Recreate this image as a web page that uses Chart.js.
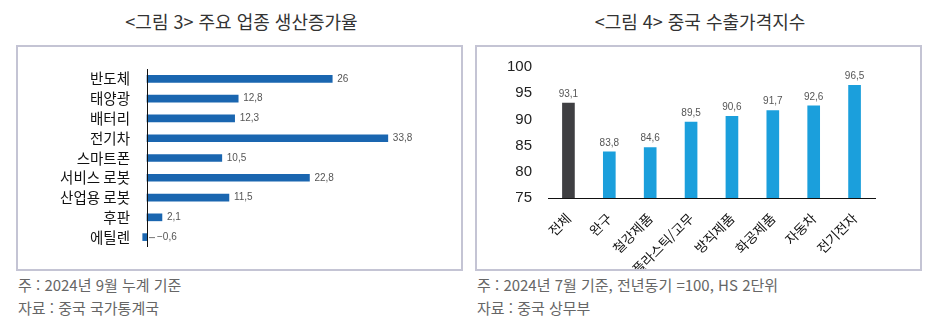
<!DOCTYPE html>
<html lang="ko">
<head>
<meta charset="UTF-8">
<title>중국 산업 지표</title>
<script src="https://cdn.jsdelivr.net/npm/chart.js@4.4.1/dist/chart.umd.min.js"></script>
<style>
    body { margin:0; background:#fff; font-family:'Noto Sans CJK KR', sans-serif; }
    .title { position:absolute; top:8px; font-size:18px; line-height:26px; color:#333; text-align:center; }
    .box { position:absolute; top:45px; width:443px; height:222px; border:2px solid #c4c4d4; }
    .note { position:absolute; font-size:15px; line-height:20px; color:#666; }
</style>
</head>
<body>
<div class="title" style="left:16px;width:451px">&lt;그림 3&gt; 주요 업종 생산증가율</div>
<div class="title" style="left:475px;width:450px">&lt;그림 4&gt; 중국 수출가격지수</div>
<div class="box" style="left:16px"><canvas id="chart1" width="443" height="222"></canvas></div>
<div class="box" style="left:475px"><canvas id="chart2" width="443" height="222"></canvas></div>
<div class="note" style="left:18px;top:275px">주 : 2024년 9월 누계 기준</div>
<div class="note" style="left:18px;top:298px">자료 : 중국 국가통계국</div>
<div class="note" style="left:477px;top:275px">주 : 2024년 7월 기준, 전년동기 =100, HS 2단위</div>
<div class="note" style="left:477px;top:298px">자료 : 중국 상무부</div>
<script>
    // 주요 업종 생산증가율 (%)
    var industries = ['반도체','태양광','배터리','전기차','스마트폰','서비스 로봇','산업용 로봇','후판','에틸렌'];
    var growth = [26, 12.8, 12.3, 33.8, 10.5, 22.8, 11.5, 2.1, -0.6];

    // 중국 수출가격지수 (전년동기=100)
    var products = ['전체','완구','철강제품','플라스틱/고무','방직제품','화공제품','자동차','전기전자'];
    var priceIndex = [93.1, 83.8, 84.6, 89.5, 90.6, 91.7, 92.6, 96.5];
    var priceTicks = [75, 80, 85, 90, 95, 100];

    function fmt(v) {
        return (v < 0 ? '\u2212' : '') + String(Math.abs(v)).replace('.', ',');
    }

    // 막대 끝에 값 표시
    var valueLabels = {
        id: 'valueLabels',
        afterDatasetsDraw: function (chart) {
            var ctx = chart.ctx;
            var meta = chart.getDatasetMeta(0);
            var data = chart.data.datasets[0].data;
            var horizontal = chart.options.indexAxis === 'y';
            ctx.save();
            ctx.fillStyle = '#555';
            ctx.font = '10px "Liberation Sans", sans-serif';
            meta.data.forEach(function (bar, i) {
                var v = data[i];
                if (horizontal) {
                    var x0 = chart.scales.x.getPixelForValue(0);
                    var end = Math.max(bar.x, x0);
                    ctx.textAlign = 'left';
                    ctx.textBaseline = 'middle';
                    if (v < 0) {
                        ctx.strokeStyle = '#777';
                        ctx.lineWidth = 1;
                        ctx.beginPath();
                        ctx.moveTo(end + 2, bar.y + 0.5);
                        ctx.lineTo(end + 8, bar.y + 0.5);
                        ctx.stroke();
                        ctx.fillText(fmt(v), end + 10, bar.y);
                    } else {
                        ctx.fillText(fmt(v), end + 5, bar.y);
                    }
                } else {
                    ctx.textAlign = 'center';
                    ctx.textBaseline = 'bottom';
                    ctx.fillText(fmt(v), bar.x, bar.y - 4);
                }
            });
            ctx.restore();
        }
    };

    // 0 기준선
    var zeroLine = {
        id: 'zeroLine',
        afterDatasetsDraw: function (chart) {
            var ctx = chart.ctx;
            var x = Math.round(chart.scales.x.getPixelForValue(0)) + 0.5;
            ctx.save();
            ctx.strokeStyle = '#111';
            ctx.lineWidth = 1;
            ctx.beginPath();
            ctx.moveTo(x, chart.chartArea.top);
            ctx.lineTo(x, chart.chartArea.bottom);
            ctx.stroke();
            ctx.restore();
        }
    };

    new Chart(document.getElementById('chart1'), {
        type: 'bar',
        data: {
            labels: industries,
            datasets: [{
                data: growth,
                backgroundColor: '#1a66b0',
                barThickness: 7
            }]
        },
        options: {
            indexAxis: 'y',
            responsive: false,
            animation: false,
            layout: { padding: { top: 22, right: 29, bottom: 22, left: 0 } },
            plugins: { legend: { display: false }, tooltip: { enabled: false } },
            scales: {
                x: { display: false, min: -0.7, max: 40 },
                y: {
                    grid: { display: false },
                    border: { display: false },
                    ticks: {
                        color: '#111',
                        padding: 4,
                        autoSkip: false,
                        font: { family: 'Noto Sans CJK KR', size: 14.5 }
                    },
                    afterFit: function (scale) { scale.width = 124; }
                }
            }
        },
        plugins: [valueLabels, zeroLine]
    });

    new Chart(document.getElementById('chart2'), {
        type: 'bar',
        data: {
            labels: products,
            datasets: [{
                data: priceIndex,
                backgroundColor: ['#3f3f42', '#1b9fdc', '#1b9fdc', '#1b9fdc', '#1b9fdc', '#1b9fdc', '#1b9fdc', '#1b9fdc'],
                barThickness: 12
            }]
        },
        options: {
            responsive: false,
            animation: false,
            layout: { padding: { top: 20, right: 45, bottom: 0, left: 0 } },
            plugins: { legend: { display: false }, tooltip: { enabled: false } },
            scales: {
                x: {
                    grid: { display: false },
                    border: { display: true, color: '#111', width: 1 },
                    ticks: {
                        color: '#111',
                        maxRotation: 45,
                        minRotation: 45,
                        padding: 4,
                        autoSkip: false,
                        font: { family: 'Noto Sans CJK KR', size: 13.5 }
                    },
                    afterFit: function (scale) { scale.height = 71; }
                },
                y: {
                    min: 75,
                    max: 100,
                    grid: { display: false },
                    border: { display: false },
                    afterBuildTicks: function (scale) {
                        scale.ticks = priceTicks.map(function (v) { return { value: v }; });
                    },
                    ticks: {
                        color: '#222',
                        padding: 8,
                        font: { family: '"Liberation Sans", sans-serif', size: 15 }
                    },
                    afterFit: function (scale) { scale.width = 71; }
                }
            }
        },
        plugins: [valueLabels]
    });
</script>
</body>
</html>
